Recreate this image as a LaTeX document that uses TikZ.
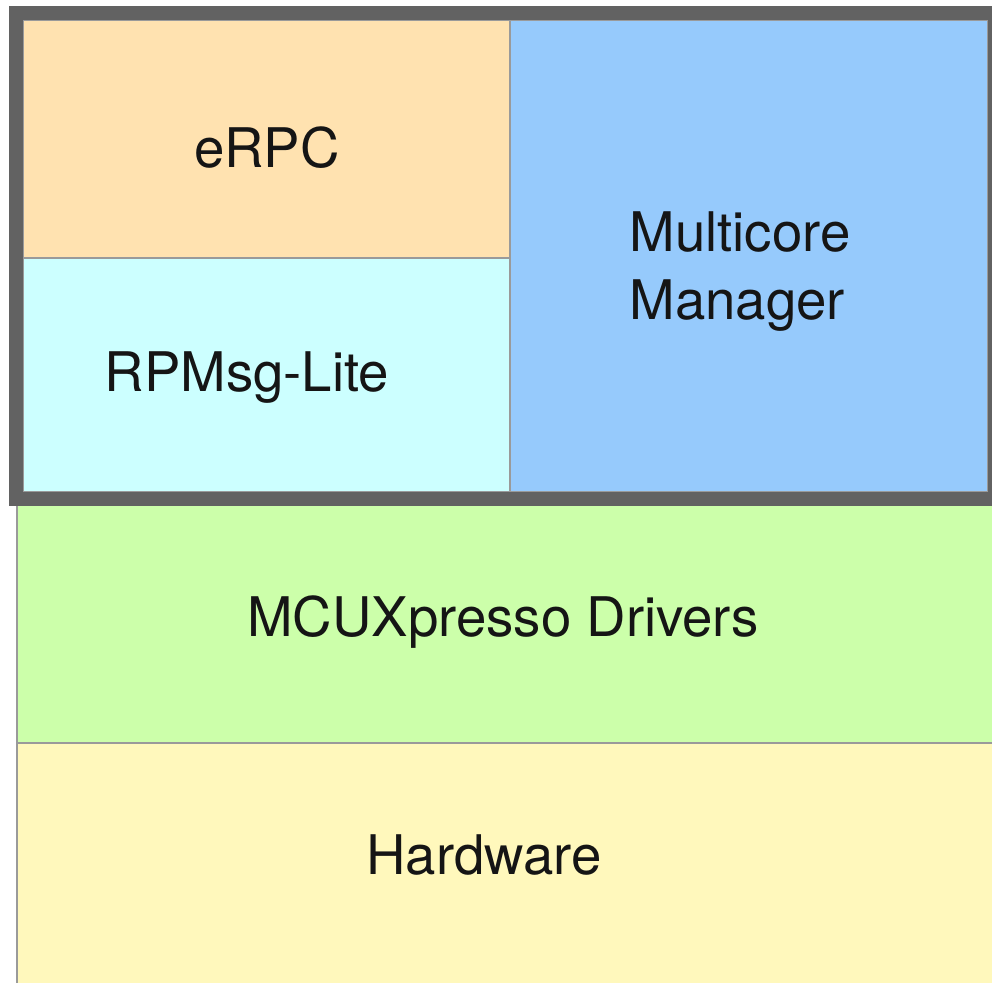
\documentclass[tikz,border=0pt]{standalone}
\usepackage{fontspec}
\setmainfont{TeX Gyre Heros}
\definecolor{erpcC}{HTML}{FFE2B0}
\definecolor{rpmsgC}{HTML}{CCFFFF}
\definecolor{mcmC}{HTML}{96CAFC}
\definecolor{drvC}{HTML}{CCFFAA}
\definecolor{hwC}{HTML}{FFF8BC}
\definecolor{frameC}{HTML}{626262}
\definecolor{lineC}{HTML}{9A9A9A}
\definecolor{txtC}{HTML}{151515}
\tikzset{
  layer/.style={draw=lineC, line width=2pt, anchor=north west, inner sep=0pt, outer sep=0pt},
  lbl/.style={text=txtC, font=\fontsize{54.6}{68}\selectfont, inner sep=0pt, align=left},
}
\begin{document}
\begin{tikzpicture}[x=1pt,y=-1pt]
\useasboundingbox (0,0) rectangle (992,982);
\fill[white] (0,0) rectangle (992,982);
% lower layers
\node[layer, fill=drvC, minimum width=985pt, minimum height=238pt] (drv) at (17,505) {};
\node[layer, fill=hwC, minimum width=985pt, minimum height=245pt] (hw) at (17,743) {};
% upper boxes
\node[layer, fill=erpcC, minimum width=487pt, minimum height=238pt] (erpc) at (23,20) {};
\node[layer, fill=rpmsgC, minimum width=487pt, minimum height=234pt] (rpmsg) at (23,258) {};
\node[layer, fill=mcmC, minimum width=478pt, minimum height=472pt] (mcm) at (510,20) {};
% frame
\node[draw=frameC, line width=14pt, anchor=north west, inner sep=0pt, outer sep=0pt, minimum width=979pt, minimum height=485.5pt] (frame) at (16,13) {};
% labels
\node[lbl] (t1) at (267,148) {eRPC};
\node[lbl] (t2) at (247,378) {RPMsg-Lite};
\node[lbl] (t3) at (740,272) {Multicore\\Manager};
\node[lbl] (t4) at (503,622) {MCUXpresso Drivers};
\node[lbl] (t5) at (484,855) {Hardware};
\end{tikzpicture}
\end{document}
